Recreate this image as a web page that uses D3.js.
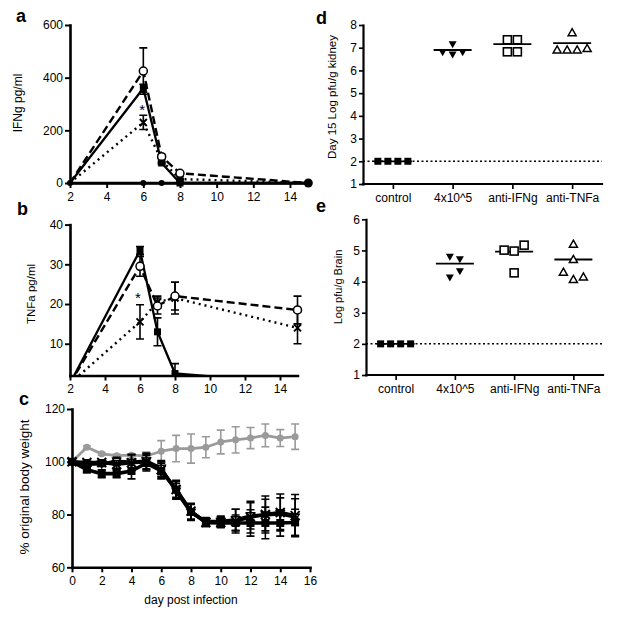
<!DOCTYPE html>
<html><head><meta charset="utf-8">
<script src="https://cdn.jsdelivr.net/npm/d3@7"></script>
<style>body{margin:0;background:#fff} svg text{font-family:"Liberation Sans",Arial,sans-serif}</style>
</head><body><svg id="c" width="621" height="622"></svg>
<script>
// ---------- Panel a : IFNg ----------
const ifngDays = [2, 6, 7, 8, 15];
const ifngSolid = [0, 360, 76, 0, 0];
const ifngSolidErr = [0, 15, 6, 0, 0];
const ifngDashed = [0, 425, 100, 37, 0];
const ifngDashedErr = [0, 88, 8, 5, 0];
const ifngDotted = [0, 230, 85, 15, 0];
const ifngDottedErr = [0, 27, 8, 3, 0];
const ifngControl = [0, 0, 0, 0, 0];
const ifngTicksY = [0, 200, 400, 600];
const dayTicksAB = [2, 4, 6, 8, 10, 12, 14];

// ---------- Panel b : TNFa ----------
const tnfDays = [2, 6, 7, 8, 15];
const tnfSolid = [0, 33.5, 13, 2.5, 0];
const tnfSolidErr = [0, 1, 3.5, 2.5, 0];
const tnfDashed = [0, 29.5, 19.5, 22, 18.5];
const tnfDashedErr = [0, 2.5, 2, 3.5, 3.5];
const tnfDotted = [0, 15.5, 20.5, 21.5, 14];
const tnfDottedErr = [0, 4.3, 1.5, 4, 4];
const tnfTicksY = [10, 20, 30, 40];

// ---------- Panel c : body weight ----------
const weightDays = [0, 1, 2, 3, 4, 5, 6, 7, 8, 9, 10, 11, 12, 13, 14, 15];
const weightUninf = [100, 105.5, 103, 102.3, 102.5, 102.2, 104, 105, 105, 105.5, 107.5, 108.3, 109, 110, 109, 109.5];
const weightUninfErr = [0, 0.5, 0.5, 0.5, 0.5, 1.5, 4, 5, 5.5, 4, 4.5, 5, 4, 4.3, 3.2, 4.8];
const weightSquares = [100, 97, 95.5, 95.5, 96.5, 99.5, 96.5, 89.5, 81, 77, 76.8, 76.8, 76.8, 76.8, 76.8, 77];
const weightSquaresErr = [0, 1, 1.5, 1.5, 3, 3, 3, 3, 3, 1.5, 1.5, 3, 5, 6, 5, 5];
const weightCross = [100, 99.7, 99.7, 99, 99.6, 100, 97, 89.5, 81.3, 77, 77, 77.5, 79, 80, 80.8, 79.6];
const weightCrossErr = [0, 1, 1, 1.5, 3, 3, 3, 3.5, 3, 1.5, 2, 4.5, 6, 7, 7, 8];
const weightTri = [100, 99, 99.2, 100.2, 99.8, 100.3, 97.5, 88.8, 80.8, 77.4, 77.4, 78, 79.5, 79.8, 80.3, 79];
const weightTriErr = [0, 1, 1, 1.5, 3, 3, 3, 3, 3, 1.5, 2, 4, 5, 6, 6, 7];
const weightTicksY = [60, 80, 100, 120];
const dayTicksC = [0, 2, 4, 6, 8, 10, 12, 14, 16];

// ---------- Panels d, e : virus titres ----------
const groups = ["control", "4x10^5", "anti-IFNg", "anti-TNFa"];
const kidneyControl = [2, 2, 2, 2];
const kidney4e5 = [6.8, 7.15, 6.7, 6.8];
const kidneyIFNg = [7.35, 7.35, 6.82, 6.82];
const kidneyTNFa = [7.66, 6.9, 6.9, 6.9, 6.97];
const brainControl = [2, 2, 2, 2];
const brain4e5 = [4.8, 4.72, 4.13, 4.33];
const brainIFNg = [5.01, 4.98, 5.17, 4.28];
const brainTNFa = [5.2, 4.71, 4.3, 4.07, 4.15];
const detectionLimit = 2;
const kidneyTicks = [1, 2, 3, 4, 5, 6, 7, 8];
const brainTicks = [1, 2, 3, 4, 5, 6];

// ================= drawing =================
const svg = d3.select("#c");
const K = "#000";
const GREY = "#9a9a9a";

function styleAxis(g, w) {
  g.select(".domain").attr("stroke", K).attr("stroke-width", w).attr("stroke-linecap", "square");
  g.selectAll(".tick line").attr("stroke", K).attr("stroke-width", w * 0.75);
  g.selectAll(".tick text").attr("font-size", 12).attr("fill", K);
}

function marker(g, type, x, y, s, color) {
  color = color || K;
  if (type === "sq") {
    g.append("rect").attr("x", x - s / 2).attr("y", y - s / 2).attr("width", s).attr("height", s).attr("fill", color);
  } else if (type === "osq") {
    g.append("rect").attr("x", x - s / 2).attr("y", y - s / 2).attr("width", s).attr("height", s)
      .attr("fill", "#fff").attr("stroke", color).attr("stroke-width", 1.6);
  } else if (type === "circ") {
    g.append("circle").attr("cx", x).attr("cy", y).attr("r", s / 2).attr("fill", color);
  } else if (type === "ocirc") {
    g.append("circle").attr("cx", x).attr("cy", y).attr("r", s / 2).attr("fill", "#fff").attr("stroke", color).attr("stroke-width", 1.5);
  } else if (type === "x") {
    const h = s / 2;
    g.append("path").attr("d", `M${x - h},${y - h}L${x + h},${y + h}M${x - h},${y + h}L${x + h},${y - h}`)
      .attr("stroke", color).attr("stroke-width", 2).attr("fill", "none");
  } else if (type === "tridown" || type === "otridown" || type === "otriup") {
    const h = s / 2, up = type === "otriup";
    const d = up ? `M${x},${y - h}L${x + h},${y + h * 0.75}L${x - h},${y + h * 0.75}Z`
                 : `M${x},${y + h}L${x + h},${y - h * 0.75}L${x - h},${y - h * 0.75}Z`;
    const p = g.append("path").attr("d", d);
    if (type === "tridown") p.attr("fill", color);
    else p.attr("fill", "#fff").attr("stroke", color).attr("stroke-width", 1.5);
  }
}

function series(g, xs, ys, errs, xS, yS, o) {
  const pts = xs.map((d, i) => [d, ys[i], errs ? errs[i] : 0]);
  pts.forEach(p => {
    if (p[2] > 0) {
      const x = xS(p[0]), y1 = yS(p[1] + p[2]), y2 = yS(p[1] - p[2]);
      g.append("path").attr("d", `M${x},${y1}L${x},${y2}M${x - 4},${y1}L${x + 4},${y1}M${x - 4},${y2}L${x + 4},${y2}`)
        .attr("stroke", o.color || K).attr("stroke-width", 1.6).attr("fill", "none");
    }
  });
  const line = d3.line().x(d => xS(d[0])).y(d => yS(d[1]));
  const path = g.append("path").datum(pts).attr("d", line).attr("fill", "none")
    .attr("stroke", o.color || K).attr("stroke-width", o.width || 2).attr("stroke-linejoin", "round");
  if (o.dash) path.attr("stroke-dasharray", o.dash);
  if (o.marker) pts.forEach(p => marker(g, o.marker, xS(p[0]), yS(p[1]), o.size || 7, o.color));
}

function ylabel(x, y, txt, fs) {
  svg.append("text").attr("transform", `translate(${x},${y}) rotate(-90)`).attr("text-anchor", "middle")
    .attr("font-size", fs || 12).attr("fill", K).text(txt);
}
function letter(x, y, t) {
  svg.append("text").attr("x", x).attr("y", y).attr("font-size", 18).attr("font-weight", "bold").attr("fill", K).text(t);
}

// ----- Panel a -----
{
  const x = d3.scaleLinear().domain([2, 15]).range([70, 308.3]);
  const y = d3.scaleLinear().domain([0, 600]).range([183, 25]);
  const g = svg.append("g");
  series(g, ifngDays, ifngDotted, ifngDottedErr, x, y, { dash: "2,4", width: 2.4 });
  series(g, ifngDays, ifngDashed, ifngDashedErr, x, y, { dash: "8,4", width: 2.4 });
  series(g, ifngDays, ifngSolid, ifngSolidErr, x, y, { width: 2.3 });
  series(g, ifngDays, ifngControl, null, x, y, { width: 2.5, marker: "circ", size: 6 });
  ifngDays.forEach((d, i) => {
    if (i > 0 && i < 4) {
      marker(g, "x", x(d), y(ifngDotted[i]), 7);
      marker(g, "ocirc", x(d), y(ifngDashed[i]), 8);
      marker(g, "sq", x(d), y(ifngSolid[i]), 7);
    }
  });
  marker(g, "circ", x(15), y(0), 9);
  g.append("text").attr("x", x(6) - 4).attr("y", y(235) - 6).attr("font-size", 15).attr("fill", K).text("*");
  const ax = svg.append("g").attr("transform", "translate(0,183)")
    .call(d3.axisBottom(x).tickValues(dayTicksAB).tickSize(5).tickSizeOuter(0).tickPadding(4));
  styleAxis(ax, 2.6);
  const ay = svg.append("g").attr("transform", "translate(70,0)")
    .call(d3.axisLeft(y).tickValues(ifngTicksY).tickSize(5).tickSizeOuter(0).tickPadding(2));
  styleAxis(ay, 2.6);
  ylabel(22, 103, "IFNg pg/ml");
  letter(16, 22, "a");
}

// ----- Panel b -----
{
  const x = d3.scaleLinear().domain([2, 15]).range([70, 297.5]);
  const y = d3.scaleLinear().domain([2, 40]).range([375.5, 224.6]);
  svg.append("clipPath").attr("id", "clipb").append("rect").attr("x", 68).attr("y", 200).attr("width", 250).attr("height", 175.5);
  const g = svg.append("g").attr("clip-path", "url(#clipb)");
  series(g, tnfDays, tnfDotted, tnfDottedErr, x, y, { dash: "2,4", width: 2.4 });
  series(g, tnfDays, tnfDashed, tnfDashedErr, x, y, { dash: "8,4", width: 2.4 });
  series(g, tnfDays, tnfSolid, tnfSolidErr, x, y, { width: 2.3 });
  tnfDays.forEach((d, i) => {
    if (i > 0) {
      marker(g, "x", x(d), y(tnfDotted[i]), 7);
      marker(g, "ocirc", x(d), y(tnfDashed[i]), 8);
      if (i < 4) marker(g, "sq", x(d), y(tnfSolid[i]), 7);
    }
  });
  svg.append("text").attr("x", x(6) - 5).attr("y", y(22) + 7).attr("font-size", 15).attr("fill", K).text("*");
  const ax = svg.append("g").attr("transform", "translate(0,375.5)")
    .call(d3.axisBottom(x).tickValues(dayTicksAB).tickSize(5).tickSizeOuter(0).tickPadding(4));
  styleAxis(ax, 2.6);
  const ay = svg.append("g").attr("transform", "translate(70,0)")
    .call(d3.axisLeft(y).tickValues(tnfTicksY).tickSize(5).tickSizeOuter(0).tickPadding(2));
  styleAxis(ay, 2.6);
  ylabel(35, 294, "TNFa pg/ml", 11.5);
  letter(17, 215, "b");
}

// ----- Panel c -----
{
  const x = d3.scaleLinear().domain([0, 16]).range([72, 310]);
  const y = d3.scaleLinear().domain([60, 120]).range([567.3, 409]);
  const g = svg.append("g");
  series(g, weightDays, weightUninf, weightUninfErr, x, y, { color: GREY, width: 2.8, marker: "circ", size: 7 });
  series(g, weightDays, weightTri, weightTriErr, x, y, { width: 3.4, marker: "otridown", size: 8 });
  series(g, weightDays, weightCross, weightCrossErr, x, y, { width: 3.4, marker: "x", size: 9 });
  series(g, weightDays, weightSquares, weightSquaresErr, x, y, { width: 3.6, marker: "sq", size: 8 });
  const ax = svg.append("g").attr("transform", "translate(0,567.3)")
    .call(d3.axisBottom(x).tickValues(dayTicksC).tickSize(5).tickSizeOuter(0).tickPadding(4));
  styleAxis(ax, 2.6);
  const ay = svg.append("g").attr("transform", "translate(72,0)")
    .call(d3.axisLeft(y).tickValues(weightTicksY).tickSize(5).tickSizeOuter(0).tickPadding(2));
  styleAxis(ay, 2.6);
  ylabel(29, 487, "% original body weight", 13.5);
  svg.append("text").attr("x", 191).attr("y", 604).attr("text-anchor", "middle").attr("font-size", 12).attr("fill", K).text("day post infection");
  letter(19, 405, "c");
}

// ----- Panels d, e -----
function scatterPanel(cfg) {
  const x = d3.scalePoint().domain(groups).range([cfg.x0, cfg.x1]).padding(0.5);
  const y = d3.scaleLinear().domain(cfg.ydom).range([cfg.yb, cfg.yt]);
  const g = svg.append("g");
  g.append("line").attr("x1", cfg.x0).attr("x2", cfg.x1).attr("y1", y(detectionLimit)).attr("y2", y(detectionLimit))
    .attr("stroke", K).attr("stroke-width", 1.5).attr("stroke-dasharray", "2,2.5");
  cfg.data.forEach((vals, gi) => {
    const cx = x(groups[gi]);
    const mean = Math.log10(d3.mean(vals, v => Math.pow(10, v)));
    g.append("line").attr("x1", cx - 19).attr("x2", cx + 19).attr("y1", y(mean)).attr("y2", y(mean))
      .attr("stroke", K).attr("stroke-width", 1.8);
    const idx = vals.map((v, i) => i).sort((a, b) => vals[b] - vals[a]);
    const rows = [];
    idx.forEach(i => {
      const r = rows[rows.length - 1];
      if (r && Math.abs(y(vals[r[0]]) - y(vals[i])) < 9) r.push(i); else rows.push([i]);
    });
    rows.forEach(r => {
      r.sort((a, b) => a - b);
      r.forEach((i, k) => marker(g, cfg.markers[gi], cx + (k - (r.length - 1) / 2) * 10, y(vals[i]), cfg.sizes[gi]));
    });
  });
  const ax = svg.append("g").attr("transform", `translate(0,${cfg.yb})`)
    .call(d3.axisBottom(x).tickSize(5).tickSizeOuter(0).tickPadding(4));
  styleAxis(ax, 2.2);
  ax.select(".domain").attr("d", `M${cfg.x0},0H${cfg.x1}`);
  const ay = svg.append("g").attr("transform", `translate(${cfg.x0},0)`)
    .call(d3.axisLeft(y).tickValues(cfg.ticks).tickFormat(d3.format("d")).tickSize(4).tickSizeOuter(0).tickPadding(2));
  styleAxis(ay, 2.2);
}
scatterPanel({ x0: 363, x1: 602, yb: 184, yt: 25, ydom: [1, 8], ticks: kidneyTicks,
  data: [kidneyControl, kidney4e5, kidneyIFNg, kidneyTNFa],
  markers: ["sq", "tridown", "osq", "otriup"], sizes: [7, 8, 8, 8] });
ylabel(336, 97, "Day 15 Log pfu/g kidney", 11.5);
letter(316, 24, "d");

scatterPanel({ x0: 366, x1: 603, yb: 375, yt: 219.3, ydom: [1, 6], ticks: brainTicks,
  data: [brainControl, brain4e5, brainIFNg, brainTNFa],
  markers: ["sq", "tridown", "osq", "otriup"], sizes: [7, 8, 8, 8] });
ylabel(342, 287, "Log pfu/g Brain", 11);
letter(316, 212, "e");
</script>
</body></html>
